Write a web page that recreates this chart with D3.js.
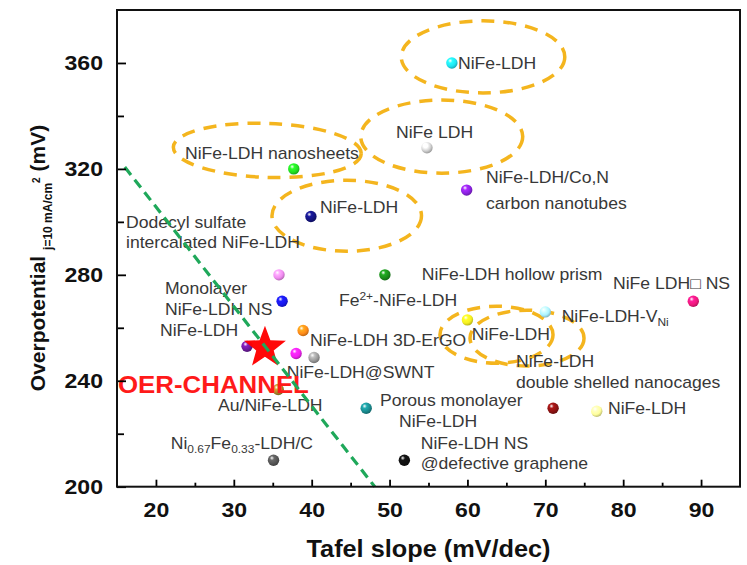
<!DOCTYPE html>
<html><head><meta charset="utf-8">
<script src="https://cdn.jsdelivr.net/npm/d3@7"></script>
<style>body{margin:0;background:#fff;} svg{display:block;font-family:"Liberation Sans",Arial,sans-serif;}</style>
</head><body><svg id="chart" width="747" height="565"></svg>
<script>
// ---- data ----
const tafel =        [58.0, 54.8, 59.9, 37.7, 39.9, 35.8, 49.4, 36.2, 38.9, 31.7, 38.0, 40.3, 35.7, 47.0, 35.1, 51.9, 60.0, 70.0, 89.0, 71.0, 76.6];
const overpotential =[360, 328, 312, 320, 302, 280, 280, 270, 259, 253, 250.3, 248.8, 236.7, 229.6, 210, 210, 263, 266, 270, 229.6, 228.5];
const pointColors =  ["#20e4f2","#cfcfcf","#8a22e0","#22e022","#141480","#f08af0","#1a8c1a","#1818ee","#ff8a18","#6c1a9c","#f020f0","#9a9a9a","#a8862a","#1a8a8e","#555555","#111111","#f5f020","#aaf2ff","#f0187c","#8c1212","#ffff9c"];
const starPoint = {tafel: 34.0, overpotential: 252.5};
const xTicks = [20, 30, 40, 50, 60, 70, 80, 90];
const xMinor = [25, 35, 45, 55, 65, 75, 85];
const yTicks = [200, 240, 280, 320, 360];
const yMinor = [220, 260, 300, 340];
const trendLine = [[16.0, 320.7], [48.1, 200]];
// ellipses: center (tafel, overpotential), radii in data units, rotation deg
const ellipses = [
  {cx: 62.0, cy: 362.3, rx: 10.5, ry: 13.6, rot: 0},
  {cx: 56.7, cy: 332.2, rx: 10.4, ry: 13.8, rot: 0},
  {cx: 34.3, cy: 327.0, rx: 12.07, ry: 10.2, rot: 2},
  {cx: 44.5, cy: 302.3, rx: 9.6, ry: 13.4, rot: 0},
  {cx: 63.73, cy: 257.4, rx: 7.26, ry: 10.75, rot: 0},
  {cx: 67.65, cy: 256.1, rx: 7.32, ry: 10.56, rot: 0}
];
// labels: parts = [text, kind] kind: n normal, sub, sup
const labels = [
  {x: 58.79, y: 357.9, parts: [["NiFe-LDH"]]},
  {x: 50.83, y: 331.7, parts: [["NiFe LDH"]]},
  {x: 62.38, y: 314.5, parts: [["NiFe-LDH/Co,N"]]},
  {x: 62.38, y: 305.0, parts: [["carbon nanotubes"]]},
  {x: 23.73, y: 323.9, parts: [["NiFe-LDH nanosheets"]]},
  {x: 41.07, y: 303.2, parts: [["NiFe-LDH"]]},
  {x: 16.16, y: 297.6, parts: [["Dodecyl sulfate"]]},
  {x: 16.16, y: 290.0, parts: [["intercalated NiFe-LDH"]]},
  {x: 21.16, y: 272.7, parts: [["Monolayer"]]},
  {x: 21.16, y: 264.8, parts: [["NiFe-LDH NS"]]},
  {x: 20.52, y: 257.0, parts: [["NiFe-LDH"]]},
  {x: 43.5,  y: 268.1, parts: [["Fe"],["2+","sup"],["-NiFe-LDH"]]},
  {x: 54.13, y: 278.1, parts: [["NiFe-LDH hollow prism"]]},
  {x: 78.69, y: 274.6, parts: [["NiFe LDH\u25A1 NS"]]},
  {x: 72.1,  y: 262.1, parts: [["NiFe-LDH-V"],["Ni","sub"]]},
  {x: 39.78, y: 253.1, parts: [["NiFe-LDH 3D-ErGO"]]},
  {x: 60.55, y: 255.5, parts: [["NiFe-LDH"]]},
  {x: 36.79, y: 241.0, parts: [["NiFe-LDH@SWNT"]]},
  {x: 66.24, y: 245.1, parts: [["NiFe-LDH"]]},
  {x: 66.24, y: 237.2, parts: [["double shelled nanocages"]]},
  {x: 27.97, y: 228.5, parts: [["Au/NiFe-LDH"]]},
  {x: 48.77, y: 230.4, parts: [["Porous monolayer"]]},
  {x: 51.21, y: 222.5, parts: [["NiFe-LDH"]]},
  {x: 78.05, y: 227.4, parts: [["NiFe-LDH"]]},
  {x: 21.9,  y: 214.2, parts: [["Ni"],["0.67","sub"],["Fe"],["0.33","sub"],["-LDH/C"]]},
  {x: 54.0,  y: 214.2, parts: [["NiFe-LDH NS"]]},
  {x: 54.0,  y: 206.5, parts: [["@defective graphene"]]}
];
const channelLabel = {x: 15.13, y: 235.3, text: "OER-CHANNEL"};

// ---- chart ----
const svg = d3.select("#chart");
const pL = 117, pR = 740, pT = 10, pB = 486.7;
const x = d3.scaleLinear().domain([15, 95]).range([pL, pR]);
const y = d3.scaleLinear().domain([200, 380]).range([pB, pT]);
const SX = 1.1;

const defs = svg.append("defs");
pointColors.forEach((c, i) => {
  const g = defs.append("radialGradient").attr("id", "g" + i).attr("cx", "40%").attr("cy", "35%").attr("r", "65%").attr("fx", "35%").attr("fy", "30%");
  g.append("stop").attr("offset", "0%").attr("stop-color", "#ffffff");
  g.append("stop").attr("offset", "30%").attr("stop-color", d3.color(c).brighter(0.6));
  g.append("stop").attr("offset", "70%").attr("stop-color", c);
  g.append("stop").attr("offset", "100%").attr("stop-color", d3.color(c).darker(0.8));
});

// ellipses
svg.append("g").selectAll("ellipse").data(ellipses).join("ellipse")
  .attr("cx", d => x(d.cx)).attr("cy", d => y(d.cy))
  .attr("rx", d => x(d.cx + d.rx) - x(d.cx)).attr("ry", d => y(d.cy) - y(d.cy + d.ry))
  .attr("transform", d => `rotate(${d.rot},${x(d.cx)},${y(d.cy)})`)
  .attr("fill", "none").attr("stroke", "#f4b51e").attr("stroke-width", 3.5).attr("stroke-dasharray", "13,9");

// points
svg.append("g").selectAll("circle").data(tafel.map((t, i) => ({t, o: overpotential[i], i}))).join("circle")
  .attr("cx", d => x(d.t)).attr("cy", d => y(d.o)).attr("r", 5.7)
  .attr("fill", d => `url(#g${d.i})`);

// labels
function addText(g, px, py, parts, size, fill, weight) {
  const t = g.append("text").attr("transform", `translate(${px},${py}) scale(${SX},1)`)
    .attr("font-size", size).attr("fill", fill).attr("font-weight", weight || "normal");
  let shift = 0;
  parts.forEach(p => {
    const kind = p[1] || "n";
    let target = kind === "sub" ? 4 : kind === "sup" ? -6 : 0;
    const ts = t.append("tspan").text(p[0]).attr("dy", target - shift);
    if (kind !== "n") ts.attr("font-size", size * 0.68);
    shift = target;
  });
  return t;
}
const lg = svg.append("g");
labels.forEach(l => addText(lg, x(l.x), y(l.y), l.parts, 16, "#383838"));

// star
function starPath(R, r) {
  const pts = [];
  for (let k = 0; k < 10; k++) {
    const a = -Math.PI / 2 + k * Math.PI / 5;
    const rad = k % 2 === 0 ? R : r;
    pts.push([rad * Math.cos(a), rad * Math.sin(a)]);
  }
  return "M" + pts.map(p => p.join(",")).join("L") + "Z";
}
svg.append("path").attr("d", starPath(22, 9.2))
  .attr("transform", `translate(${x(starPoint.tafel)},${y(starPoint.overpotential)})`)
  .attr("fill", "#ff0000").attr("fill-opacity", 0.97);

addText(svg, x(channelLabel.x), y(channelLabel.y), [[channelLabel.text]], 23.5, "#ff1a1a", "bold");

// trend line (drawn over star and label, as in the reference)
svg.append("line")
  .attr("x1", x(trendLine[0][0])).attr("y1", y(trendLine[0][1]))
  .attr("x2", x(trendLine[1][0])).attr("y2", y(trendLine[1][1]))
  .attr("stroke", "#1fa85a").attr("stroke-width", 3.2).attr("stroke-dasharray", "10,6");

// axes
const axG = svg.append("g");
axG.append("g").attr("transform", `translate(0,${pB})`)
  .call(d3.axisBottom(x).tickValues(xTicks).tickSize(-7).tickPadding(15).tickFormat(d3.format("d")));
axG.append("g").attr("transform", `translate(0,${pB})`)
  .call(d3.axisBottom(x).tickValues(xMinor).tickSize(-4).tickFormat(""));
axG.append("g").attr("transform", `translate(${pL},0)`)
  .call(d3.axisLeft(y).tickValues(yTicks).tickSize(-9).tickPadding(14).tickFormat(d3.format("d")));
axG.append("g").attr("transform", `translate(${pL},0)`)
  .call(d3.axisLeft(y).tickValues(yMinor).tickSize(-7).tickFormat(""));
axG.selectAll(".domain").remove();
axG.selectAll(".tick line").attr("stroke", "#000").attr("stroke-width", 1.8);
axG.selectAll(".tick text").attr("font-size", 21).attr("font-weight", "bold").attr("fill", "#111")
  .attr("font-family", "Liberation Sans, Arial, sans-serif")
  .each(function() {
    const s = d3.select(this);
    const tx = +s.attr("x") || 0;
    s.attr("x", 0).attr("transform", `translate(${tx},0) scale(${SX},1)`);
  });

svg.append("rect").attr("x", pL).attr("y", pT).attr("width", pR - pL).attr("height", pB - pT)
  .attr("fill", "none").attr("stroke", "#111").attr("stroke-width", 2);

// axis titles
svg.append("text").attr("transform", `translate(${(pL + pR) / 2},557) scale(${SX},1)`)
  .attr("text-anchor", "middle").attr("font-size", 23).attr("font-weight", "bold").attr("fill", "#111")
  .text("Tafel slope (mV/dec)");
const yt = svg.append("text").attr("transform", `translate(45,258) rotate(-90)`)
  .attr("text-anchor", "middle").attr("font-size", 21).attr("font-weight", "bold").attr("fill", "#111");
yt.append("tspan").text("Overpotential ");
yt.append("tspan").text("j=10 mA/cm").attr("font-size", 12).attr("dy", 7);
yt.append("tspan").text("2").attr("font-size", 10).attr("dy", -12);
yt.append("tspan").text(" (mV)").attr("dy", 5);
</script></body></html>
